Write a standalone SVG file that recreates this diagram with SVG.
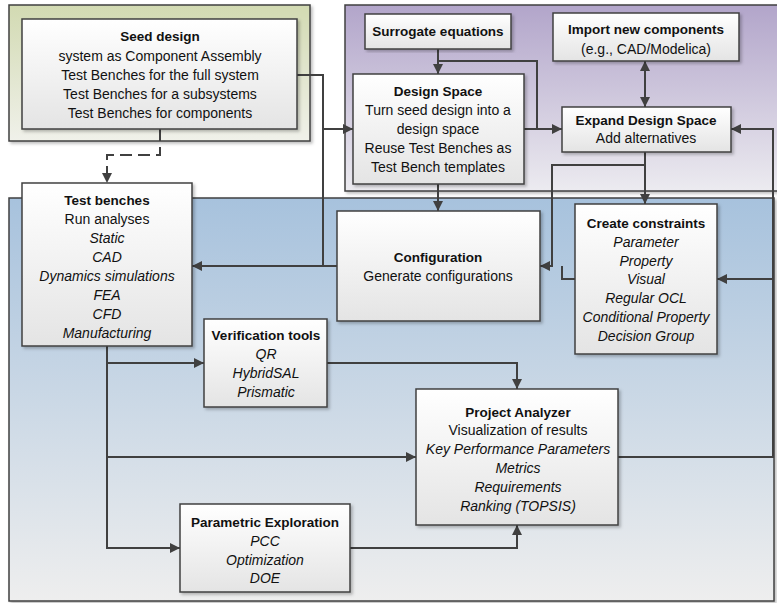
<svg xmlns="http://www.w3.org/2000/svg" width="777" height="603" viewBox="0 0 777 603">
  <defs>
    <linearGradient id="gGreen" x1="0" y1="0" x2="0" y2="1">
      <stop offset="0" stop-color="#d2dab2"/>
      <stop offset="1" stop-color="#f0f1ea"/>
    </linearGradient>
    <linearGradient id="gPurple" x1="0" y1="0" x2="0" y2="1">
      <stop offset="0" stop-color="#b2a5ca"/>
      <stop offset="1" stop-color="#ecebf0"/>
    </linearGradient>
    <linearGradient id="gBlue" x1="0" y1="0" x2="0" y2="1">
      <stop offset="0" stop-color="#a7c2dd"/>
      <stop offset="1" stop-color="#eeeeee"/>
    </linearGradient>
    <linearGradient id="gNode" x1="0" y1="0" x2="0" y2="1">
      <stop offset="0" stop-color="#ffffff"/>
      <stop offset="1" stop-color="#e4e4e4"/>
    </linearGradient>
    <filter id="shadow" x="-5%" y="-5%" width="115%" height="115%">
      <feDropShadow dx="2" dy="2" stdDeviation="1.5" flood-color="#000" flood-opacity="0.25"/>
    </filter>
    <marker id="arrow" markerUnits="userSpaceOnUse" markerWidth="10" markerHeight="10" refX="10" refY="5" orient="auto-start-reverse">
      <path d="M0,0 L10,5 L0,10 z" fill="#404040"/>
    </marker>
  </defs>
  <style>
    .region { stroke: #404040; stroke-width: 1.5; filter: url(#shadow); }
    .node rect { fill: url(#gNode); stroke: #404040; stroke-width: 1.5; filter: url(#shadow); }
    .node text { font-family: "Liberation Sans", Arial, sans-serif; font-size: 14px; fill: #111111; text-anchor: middle; }
    .node .title { font-weight: bold; font-size: 13.5px; }
    .node .it { font-style: italic; }
    #connectors path { fill: none; stroke: #404040; stroke-width: 2; }
    #connectors .arr { marker-end: url(#arrow); }
    #connectors .dash { stroke-dasharray: 12 6; }
  </style>

  <!-- background regions -->
  <g id="regions">
    <rect class="region" x="9" y="5" width="301" height="136" fill="url(#gGreen)"/>
    <rect class="region" x="345" y="5" width="440" height="186" fill="url(#gPurple)"/>
    <rect class="region" x="9" y="198" width="765" height="403" fill="url(#gBlue)"/>
  </g>

  <!-- connectors -->
  <g id="connectors">
    <path d="M297,75 H323 V266"/>
    <path class="arr" d="M323,129 H353"/>
    <path class="arr dash" d="M160,129 V155 H107 V183"/>
    <path class="arr" d="M438,49 V74"/>
    <path d="M438,61 H537 V129"/>
    <path class="arr" d="M524,129 H562"/>
    <path d="M645,61 V107" marker-start="url(#arrow)" marker-end="url(#arrow)"/>
    <path class="arr" d="M645,152 V204"/>
    <path class="arr" d="M645,165 H552 V266 H540"/>
    <path d="M575,279 H562 V266"/>
    <path class="arr" d="M438,184 V211"/>
    <path class="arr" d="M337,266 H192"/>
    <path class="arr" d="M107,346 V548 H180"/>
    <path class="arr" d="M107,363 H204"/>
    <path class="arr" d="M107,457 H416"/>
    <path class="arr" d="M327,363 H517 V389"/>
    <path class="arr" d="M350,548 H517 V525"/>
    <path class="arr" d="M618,457 H773 V129 H731"/>
    <path class="arr" d="M773,279 H717"/>
  </g>

  <!-- nodes -->
  <g id="seed-design" class="node">
    <rect x="22" y="19" width="275" height="110"/>
    <text class="title" x="160" y="41">Seed design</text>
    <text x="160" y="61">system as Component Assembly</text>
    <text x="160" y="80">Test Benches for the full system</text>
    <text x="160" y="99">Test Benches for a subsystems</text>
    <text x="160" y="118">Test Benches for components</text>
  </g>

  <g id="surrogate-equations" class="node">
    <rect x="365" y="14" width="146" height="35"/>
    <text class="title" x="438" y="36">Surrogate equations</text>
  </g>

  <g id="import-components" class="node">
    <rect x="553" y="13" width="186" height="48"/>
    <text class="title" x="646" y="34">Import new components</text>
    <text x="646" y="54">(e.g., CAD/Modelica)</text>
  </g>

  <g id="design-space" class="node">
    <rect x="353" y="74" width="171" height="110"/>
    <text class="title" x="438" y="96">Design Space</text>
    <text x="438" y="115">Turn seed design into a</text>
    <text x="438" y="134">design space</text>
    <text x="438" y="153">Reuse Test Benches as</text>
    <text x="438" y="172">Test Bench templates</text>
  </g>

  <g id="expand-design-space" class="node">
    <rect x="562" y="107" width="169" height="45"/>
    <text class="title" x="646" y="125">Expand Design Space</text>
    <text x="646" y="143">Add alternatives</text>
  </g>

  <g id="test-benches" class="node">
    <rect x="22" y="183" width="170" height="163"/>
    <text class="title" x="107" y="205">Test benches</text>
    <text x="107" y="224">Run analyses</text>
    <text class="it" x="107" y="243">Static</text>
    <text class="it" x="107" y="262">CAD</text>
    <text class="it" x="107" y="281">Dynamics simulations</text>
    <text class="it" x="107" y="300">FEA</text>
    <text class="it" x="107" y="319">CFD</text>
    <text class="it" x="107" y="338">Manufacturing</text>
  </g>

  <g id="configuration" class="node">
    <rect x="337" y="211" width="203" height="110"/>
    <text class="title" x="438" y="262">Configuration</text>
    <text x="438" y="281">Generate configurations</text>
  </g>

  <g id="create-constraints" class="node">
    <rect x="575" y="204" width="142" height="150"/>
    <text class="title" x="646" y="228">Create constraints</text>
    <text class="it" x="646" y="247">Parameter</text>
    <text class="it" x="646" y="266">Property</text>
    <text class="it" x="646" y="284">Visual</text>
    <text class="it" x="646" y="303">Regular OCL</text>
    <text class="it" x="646" y="322">Conditional Property</text>
    <text class="it" x="646" y="341">Decision Group</text>
  </g>

  <g id="verification-tools" class="node">
    <rect x="204" y="319" width="123" height="88"/>
    <text class="title" x="266" y="340">Verification tools</text>
    <text class="it" x="266" y="359">QR</text>
    <text class="it" x="266" y="378">HybridSAL</text>
    <text class="it" x="266" y="397">Prismatic</text>
  </g>

  <g id="project-analyzer" class="node">
    <rect x="416" y="389" width="202" height="136"/>
    <text class="title" x="518" y="417">Project Analyzer</text>
    <text x="518" y="435">Visualization of results</text>
    <text class="it" x="518" y="454">Key Performance Parameters</text>
    <text class="it" x="518" y="473">Metrics</text>
    <text class="it" x="518" y="492">Requirements</text>
    <text class="it" x="518" y="511">Ranking (TOPSIS)</text>
  </g>

  <g id="parametric-exploration" class="node">
    <rect x="180" y="504" width="170" height="88"/>
    <text class="title" x="265" y="527">Parametric Exploration</text>
    <text class="it" x="265" y="546">PCC</text>
    <text class="it" x="265" y="565">Optimization</text>
    <text class="it" x="265" y="583">DOE</text>
  </g>
</svg>
